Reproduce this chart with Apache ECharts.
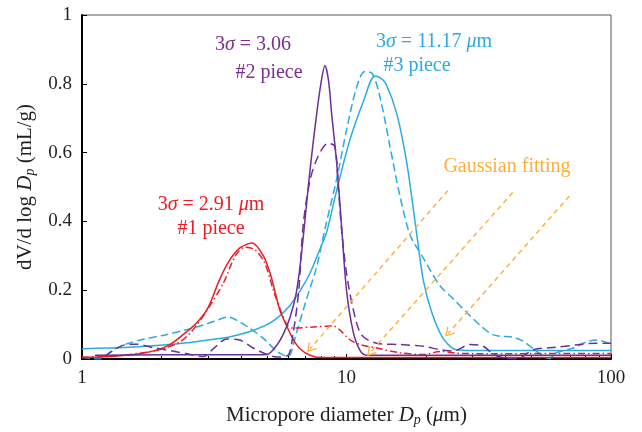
<!DOCTYPE html>
<html>
<head>
<meta charset="utf-8">
<script src="https://cdn.jsdelivr.net/npm/echarts@6/dist/echarts.min.js"></script>
<style>html,body{margin:0;padding:0;background:#fff}#c{width:642px;height:432px}</style>
</head>
<body>
<div id="c"></div>
<script>
// ---- data (x = micropore diameter in um, y = dV/dlogDp in mL/g) ----
var redFit = [[1,0.004],[1.3,0.008],[1.6,0.014],[1.9,0.025],[2.15,0.042],[2.45,0.075],[2.75,0.11],[3.0,0.15],[3.3,0.228],[3.6,0.285],[3.95,0.323],[4.4,0.337],[4.85,0.3],[5.14,0.25],[5.35,0.2],[5.61,0.14],[5.95,0.095],[6.28,0.058],[6.67,0.03],[7.28,0.011],[8,0.004],[15,0.004],[100,0.004]];
var redRaw = [[1,0.005],[1.31,0.008],[1.76,0.02],[2.03,0.03],[2.35,0.05],[2.56,0.075],[2.71,0.098],[2.96,0.14],[3.42,0.22],[3.8,0.3],[4.13,0.325],[4.5,0.318],[4.9,0.28],[5.29,0.2],[5.61,0.145],[5.95,0.1],[6.28,0.09],[7.49,0.093],[8.93,0.096],[9.45,0.084],[10.3,0.056],[11.25,0.042],[13,0.032],[15.94,0.018],[19.5,0.013],[22.6,0.022],[26,0.017],[35,0.015],[60,0.016],[100,0.016]];
var purpleFit = [[1.12,0.011],[2,0.012],[3,0.012],[4,0.012],[5,0.013],[5.45,0.04],[5.75,0.07],[6.11,0.12],[6.45,0.19],[6.7,0.28],[7.0,0.42],[7.28,0.55],[7.71,0.712],[8.0,0.8],[8.29,0.853],[8.55,0.81],[8.79,0.712],[9.18,0.57],[9.59,0.382],[10,0.2],[10.6,0.079],[11.25,0.025],[11.9,0.011],[100,0.011]];
var purpleRaw = [[1.22,0.008],[1.35,0.03],[1.48,0.043],[1.6,0.043],[1.86,0.033],[2.2,0.023],[2.5,0.015],[2.87,0.007],[3.14,0.03],[3.52,0.058],[3.95,0.055],[4.44,0.032],[5.0,0.013],[5.45,0.006],[6.0,0.01],[6.3,0.08],[6.6,0.2],[6.86,0.39],[7.28,0.52],[7.82,0.59],[8.52,0.627],[9.03,0.618],[9.3,0.504],[9.59,0.372],[10.0,0.25],[10.6,0.145],[11.4,0.07],[13,0.046],[15.94,0.042],[19.5,0.037],[22.6,0.027],[25.3,0.023],[29.3,0.042],[32.9,0.037],[36,0.013],[40,0.002],[44,0],[51,0.027],[62,0.034],[76,0.042],[88,0.046],[100,0.046]];
var blueFit = [[1,0.03],[1.5,0.034],[1.97,0.04],[2.5,0.047],[3.05,0.056],[3.6,0.064],[4.07,0.074],[4.5,0.085],[5.0,0.1],[5.45,0.118],[6.1,0.155],[6.7,0.2],[7.28,0.25],[7.94,0.32],[8.42,0.37],[9.18,0.49],[10.3,0.637],[11.6,0.75],[12.8,0.823],[13.4,0.818],[14.1,0.8],[15.5,0.712],[16.9,0.57],[18.5,0.353],[19.5,0.23],[21,0.136],[23.2,0.06],[26,0.027],[30,0.025],[100,0.025]];
var blueRaw = [[1,0.005],[1.1,0.001],[1.17,0],[1.3,0.025],[1.45,0.042],[1.68,0.056],[2.06,0.07],[2.6,0.089],[2.99,0.103],[3.3,0.115],[3.57,0.122],[3.9,0.11],[4.26,0.092],[4.85,0.06],[5.45,0.023],[6.0,0.007],[6.48,0.079],[7.06,0.174],[7.71,0.268],[8.3,0.38],[9.18,0.523],[10,0.665],[10.9,0.788],[11.7,0.835],[12.5,0.83],[13.4,0.76],[14.6,0.618],[15.9,0.476],[17.4,0.36],[19.3,0.3],[20.7,0.259],[22.6,0.212],[25.4,0.174],[28.4,0.136],[32,0.098],[36,0.07],[42.7,0.063],[46.5,0.052],[50.8,0.03],[55.5,0.008],[58.5,0.001],[62,0.018],[72,0.032],[81,0.05],[88,0.055],[93,0.052],[100,0.043]];
// Gaussian fitting arrows: [start, end] in data coordinates
var arrows = [[[24.2,0.49],[7.28,0.03]],[[42.5,0.484],[12.27,0.018]],[[69.6,0.474],[24.26,0.075]]];
var xMajorTicks = [1,10,100];
var xMinorTicks = [2,3,4,5,6,7,8,9,20,30,40,50,60,70,80,90];

var RED='#ed1c24', PURPLE='#6a2f9a', PURPLE_T='#7b2f8e', BLUE='#29abe2', ORANGE='#fbb03b', INK='#231f20';
var FF='"Liberation Serif", "DejaVu Serif", serif';

function lineSeries(data,color,type){
  return {type:'line',data:data,showSymbol:false,smooth:0.3,
    lineStyle:{color:color,width:1.5,type:type},itemStyle:{color:color},silent:true,animation:false};
}
var nameRich = {
  n:{fontFamily:FF,fontSize:21,color:INK,lineHeight:24},
  i:{fontFamily:FF,fontSize:21,color:INK,fontStyle:'italic',lineHeight:24},
  sub:{fontFamily:FF,fontSize:14,color:INK,fontStyle:'italic',lineHeight:10,verticalAlign:'bottom'}
};
function ann(x,y,text,color){
  return {type:'text',x:x,y:y,z:100,style:{text:text,fill:color,align:'center',verticalAlign:'middle',
    font:'20px '+FF,rich:{n:{fontFamily:FF,fontSize:20,fill:color,color:color},
    i:{fontFamily:FF,fontSize:20,fontStyle:'italic',fill:color,color:color}}}};
}
var arrowHead='path://M0,10 L5,0 L10,10 L8.6,10 L5,2.8 L1.4,10 Z';

var chart = echarts.init(document.getElementById('c'));
var series = [
  lineSeries(blueFit,BLUE,'solid'),
  lineSeries(blueRaw,BLUE,[8,4]),
  lineSeries(redRaw,RED,[7,3,1.5,3]),
  lineSeries(redFit,RED,'solid'),
  lineSeries(purpleRaw,PURPLE,[9,5]),
  lineSeries(purpleFit,PURPLE,'solid'),
  {type:'line',data:[],silent:true,animation:false,
    markLine:{silent:true,animation:false,symbol:['none',arrowHead],symbolSize:[11,9],label:{show:false},
      lineStyle:{color:ORANGE,width:1.4,type:[5,4]},
      data:arrows.map(function(a){return [{coord:a[0]},{coord:a[1]}];})}}
];
chart.setOption({
  animation:false,
  grid:{left:82,right:31,top:15,bottom:64,show:true,borderColor:'#555',borderWidth:1,backgroundColor:'transparent'},
  xAxis:[{
    type:'log',logBase:10,min:1,max:100,
    name:'{n|Micropore diameter }{i|D}{sub|p}{n| (}{i|μ}{n|m)}',nameLocation:'middle',nameGap:44,
    nameTextStyle:{rich:nameRich},
    axisLine:{show:true,lineStyle:{color:'#000',width:2}},
    axisTick:{show:true,inside:true,length:5,customValues:xMajorTicks,lineStyle:{color:'#000',width:1}},
    axisLabel:{customValues:xMajorTicks,fontFamily:FF,fontSize:19,color:INK,margin:10,formatter:function(v){return String(Math.round(v));}},
    splitLine:{show:false},minorTick:{show:false},minorSplitLine:{show:false}
  },{
    type:'log',logBase:10,min:1,max:100,position:'bottom',offset:0,
    axisLine:{show:false},axisLabel:{show:false},splitLine:{show:false},
    axisTick:{show:true,inside:true,length:3,customValues:xMinorTicks,lineStyle:{color:'#000',width:1}}
  }],
  yAxis:{
    type:'value',min:0,max:1,interval:0.2,
    name:'{n|dV/d log }{i|D}{sub|p}{n| (mL/g)}',nameLocation:'middle',nameGap:36,nameRotate:90,
    nameTextStyle:{rich:nameRich},
    axisLine:{show:true,lineStyle:{color:'#000',width:2}},
    axisTick:{show:true,inside:true,length:5,lineStyle:{color:'#000',width:1}},
    axisLabel:{fontFamily:FF,fontSize:19,color:INK,margin:10,formatter:function(v){return (v===0||v===1)?String(v):v.toFixed(1);}},
    splitLine:{show:false}
  },
  series:series,
  graphic:[
    ann(253,45,'{n|3}{i|σ}{n| = 3.06}',PURPLE_T),
    ann(269,73,'{n|#2 piece}',PURPLE_T),
    ann(434,42,'{n|3}{i|σ}{n| = 11.17 }{i|μ}{n|m}',BLUE),
    ann(417,66,'{n|#3 piece}',BLUE),
    ann(211,205,'{n|3}{i|σ}{n| = 2.91 }{i|μ}{n|m}',RED),
    ann(211,229,'{n|#1 piece}',RED),
    ann(507,167,'{n|Gaussian fitting}',ORANGE)
  ]
});
</script>
</body>
</html>
